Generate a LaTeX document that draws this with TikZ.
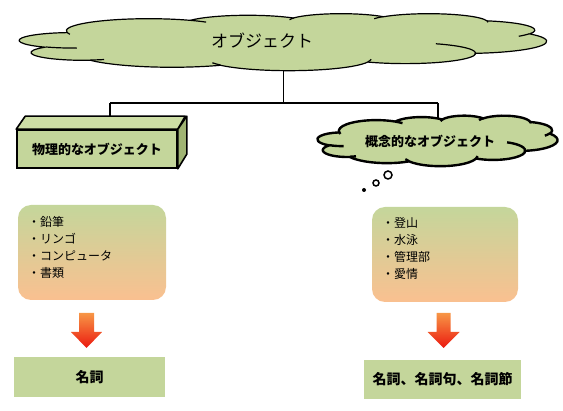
\documentclass[tikz,border=0pt]{standalone}
\usepackage{fontspec}
\setmainfont{Noto Sans CJK JP}
\definecolor{leaf}{RGB}{196,214,155}
\definecolor{leafdark}{RGB}{160,180,115}
\definecolor{leaflight}{RGB}{205,222,165}
\definecolor{peach}{RGB}{250,192,144}
\definecolor{arrowtop}{RGB}{247,150,70}
\definecolor{arrowbot}{RGB}{235,25,15}
% outline of a puffy cloud in a 432 x 432 frame (y pointing down)
\newcommand\cloudoutline{%
  (39.00,143.70)
  arc[start angle=-187.75, end angle=-59.64,  x radius=67.53, y radius=91.90]
  arc[start angle=-152.03, end angle=-45.45,  x radius=53.33, y radius=72.67]
  arc[start angle=-153.49, end angle=-37.33,  x radius=43.65, y radius=59.45]
  arc[start angle=-139.69, end angle=-10.21,  x radius=48.57, y radius=65.95]
  arc[start angle=-74.77,  end angle=23.21,   x radius=53.33, y radius=72.73]
  arc[start angle=-37.53,  end angle=81.86,   x radius=67.75, y radius=92.20]
  arc[start angle=0.46,    end angle=121.98,  x radius=57.85, y radius=78.67]
  arc[start angle=16.85,   end angle=146.24,  x radius=67.52, y radius=92.15]
  arc[start angle=59.03,   end angle=150.19,  x radius=77.20, y radius=105.43]
  arc[start angle=83.30,   end angle=223.09,  x radius=43.60, y radius=59.18]
  arc[start angle=120.36,  end angle=264.11,  x radius=43.45, y radius=59.45]
  -- cycle}
% short inner strokes where the puffs overlap
\newcommand\cloudcreases{%
  (46.93,261.77)  arc[start angle=85.54,   end angle=120.36,  x radius=43.45, y radius=59.45]
  (69.28,348.99)  arc[start angle=68.24,   end angle=83.30,   x radius=43.60, y radius=59.18]
  (164.78,390.90) arc[start angle=146.24,  end angle=158.47,  x radius=67.52, y radius=92.15]
  (288.27,347.51) arc[start angle=4.74,    end angle=16.85,   x radius=67.52, y radius=92.15]
  (341.29,229.54) arc[start angle=-64.03,  end angle=8.35,    x radius=57.85, y radius=78.67]
  (417.98,153.54) arc[start angle=23.21,   end angle=40.89,   x radius=53.33, y radius=72.73]
  (383.24,54.26)  arc[start angle=-10.21,  end angle=0.82,    x radius=48.57, y radius=65.95]
  (290.78,39.52)  arc[start angle=-156.28, end angle=-139.69, x radius=48.57, y radius=65.95]
  (221.41,47.20)  arc[start angle=-167.73, end angle=-153.49, x radius=43.65, y radius=59.45]
  (140.00,51.92)  arc[start angle=-59.64,  end angle=-45.73,  x radius=67.53, y radius=91.90]
  (41.27,157.89)  arc[start angle=163.19,  end angle=172.25,  x radius=67.53, y radius=91.90]}
\tikzset{
  cloudline/.style={draw=black, fill=leaf, line join=round},
  listbox/.style={rounded corners=13pt, top color=leaf, bottom color=peach, draw=none},
  labelbox/.style={fill=leaf, draw=none, font=\bfseries\fontsize{14}{16}\selectfont},
  listtext/.style={anchor=north west, align=left, font=\fontsize{12}{17.2}\selectfont, inner sep=0pt},
  link/.style={line width=1.8pt, black},
  bubble/.style={circle, draw=black, line width=1.5pt, fill=white, inner sep=0pt},
}
\begin{document}
\begin{tikzpicture}[x=1pt,y=-1pt]
\useasboundingbox (0,0) rectangle (563,411);

% tree connectors (drawn first, the shapes sit on top of them)
\coordinate (objBase) at (283.5,62);
\coordinate (hub) at (283.5,103);
\coordinate (hubL) at (110,103);
\coordinate (hubR) at (438,103);
\coordinate (physTop) at (110,118);
\coordinate (concTop) at (438,125);
\draw[link] (objBase) -- (hub);
\draw[link] (hubL) -- (hubR);
\draw[link] (hubL) -- (physTop);
\draw[link] (hubR) -- (concTop);

% top cloud
\begin{scope}[shift={(19.5,13.5)}, x=1.2199pt, y=-0.1319pt]
  \path[cloudline, line width=1.2pt] \cloudoutline;
  \draw[line width=1.2pt] \cloudcreases;
\end{scope}
\node[font=\fontsize{17}{19}\selectfont] (obj) at (262,41) {オブジェクト};

% physical object: 3D box
\node[draw=black, line width=1.6pt, fill=leaf, minimum width=160pt, minimum height=38pt,
      font=\bfseries\fontsize{13}{15}\selectfont, inner sep=0pt] (phys) at (97,149) {物理的なオブジェクト};
\filldraw[fill=leaflight, line width=1.6pt, line join=round]
  (phys.north west) -- ++(9,-13) -- ++(160,0) -- (phys.north east) -- cycle;
\filldraw[fill=leafdark, line width=1.6pt, line join=round]
  (phys.north east) -- ++(9,-13) -- ++(0,38) -- (phys.south east) -- cycle;

% conceptual object cloud with thought bubbles
\begin{scope}[shift={(317.5,115.5)}, x=0.5556pt, y=-0.1169pt]
  \path[cloudline, line width=2.4pt] \cloudoutline;
  \draw[line width=2.4pt] \cloudcreases;
\end{scope}
\node[font=\bfseries\fontsize{13}{15}\selectfont] (conc) at (430,141) {概念的なオブジェクト};
\node[bubble, minimum size=8pt] (b1) at (388,175) {};
\node[bubble, minimum size=6pt] (b2) at (376,183) {};
\node[circle, fill=black, minimum size=4pt, inner sep=0pt] (b3) at (364,190) {};

% example lists
\node[listbox, minimum width=148pt, minimum height=95pt] (listL) at (92,252.5) {};
\node[listtext] (itemsL) at (28,216) {・鉛筆\\・リンゴ\\・コンピュータ\\・書類};
\node[listbox, minimum width=146pt, minimum height=95pt] (listR) at (445,254.5) {};
\node[listtext] (itemsR) at (382,217) {・登山\\・水泳\\・管理部\\・愛情};

% block arrows
\shade[top color=arrowtop, bottom color=arrowbot]
  (79,313) -- (94,313) -- (94,332) -- (102,332) -- (86.5,348) -- (71,332) -- (79,332) -- cycle;
\shade[top color=arrowtop, bottom color=arrowbot]
  (436.5,313) -- (450.5,313) -- (450.5,332) -- (459.5,332) -- (443.5,348) -- (427.5,332) -- (436.5,332) -- cycle;

% parts of speech
\node[labelbox, minimum width=151pt, minimum height=40pt] (nounL) at (89.5,377) {名詞};
\node[labelbox, minimum width=157pt, minimum height=39pt] (nounR) at (442.5,379.5) {名詞、名詞句、名詞節};
\end{tikzpicture}
\end{document}
